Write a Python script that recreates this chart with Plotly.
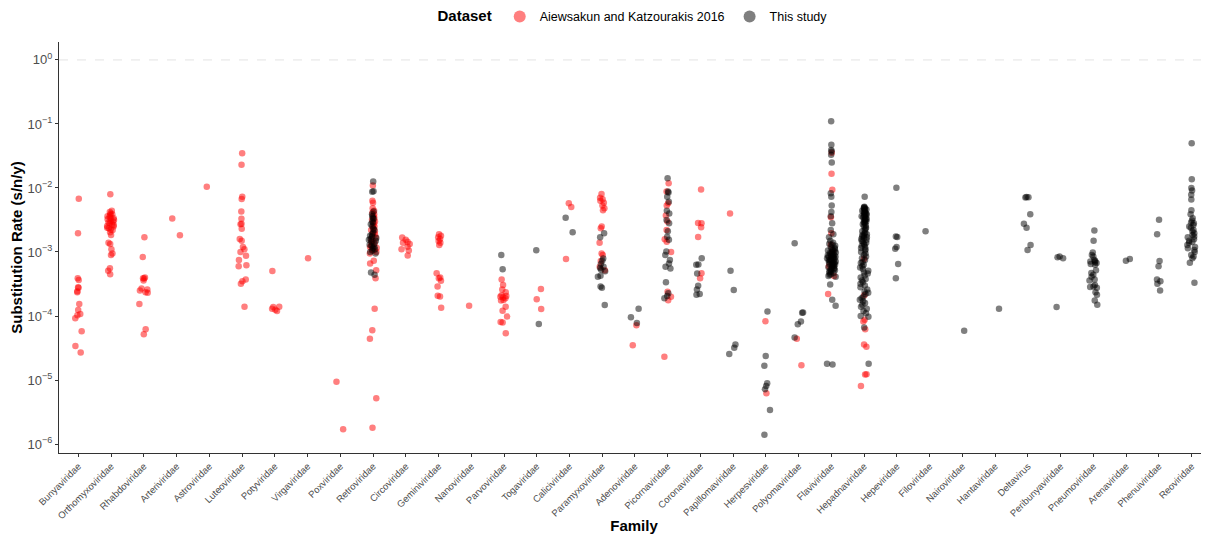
import plotly.graph_objects as go

families = ["Bunyaviridae", "Orthomyxoviridae", "Rhabdoviridae", "Arteriviridae", "Astroviridae",
            "Luteoviridae", "Potyviridae", "Virgaviridae", "Poxviridae", "Retroviridae",
            "Circoviridae", "Geminiviridae", "Nanoviridae", "Parvoviridae", "Togaviridae",
            "Caliciviridae", "Paramyxoviridae", "Adenoviridae", "Picornaviridae", "Coronaviridae",
            "Papillomaviridae", "Herpesviridae", "Polyomaviridae", "Flaviviridae", "Hepadnaviridae",
            "Hepeviridae", "Filoviridae", "Nairoviridae", "Hantaviridae", "Deltavirus",
            "Peribunyaviridae", "Pneumoviridae", "Arenaviridae", "Phenuiviridae", "Reoviridae"]

# ---- Aiewsakun and Katzourakis 2016 (red) ----
bunyaviridae_ak = [6.8e-3, 1.96e-3, 3.9e-4, 3.65e-4, 2.8e-4, 2.75e-4, 2.43e-4, 2.35e-4, 1.54e-4,
                   1.24e-4, 1.07e-4, 1.03e-4, 9.2e-5, 5.8e-5, 3.4e-5, 2.7e-5]
orthomyxoviridae_ak = [7.96e-3, 4.42e-3, 4.2e-3, 4.0e-3, 3.9e-3, 3.79e-3, 3.6e-3, 3.56e-3, 3.4e-3,
                       3.36e-3, 3.25e-3, 3.16e-3, 3.05e-3, 2.98e-3, 2.9e-3, 2.8e-3, 2.72e-3, 2.64e-3,
                       2.55e-3, 2.49e-3, 2.4e-3, 2.34e-3, 2.25e-3, 2.2e-3, 2.03e-3, 1.84e-3, 1.4e-3,
                       1.33e-3, 1.1e-3, 9.5e-4, 9.0e-4, 5.55e-4, 5.1e-4, 4.5e-4]
rhabdoviridae_ak = [1.7e-3, 8.35e-4, 4.0e-4, 3.9e-4, 3.85e-4, 3.6e-4, 2.7e-4, 2.6e-4, 2.5e-4,
                    2.35e-4, 2.3e-4, 1.54e-4, 6.2e-5, 5.2e-5]
arteriviridae_ak = [3.32e-3, 1.82e-3]
astroviridae_ak = [1.04e-2]
luteoviridae_ak = [3.5e-2, 2.3e-2, 7.3e-3, 6.7e-3, 4.3e-3, 3.3e-3, 2.75e-3, 2.7e-3, 2.3e-3, 1.6e-3,
                   1.5e-3, 1.2e-3, 1.1e-3, 1.0e-3, 8.7e-4, 7.5e-4, 6.2e-4, 6.0e-4, 3.7e-4, 3.5e-4,
                   3.2e-4, 1.4e-4]
potyviridae_ak = [5.05e-4, 1.4e-4, 1.38e-4, 1.3e-4, 1.25e-4, 1.2e-4]
virgaviridae_ak = [8.0e-4]
poxviridae_ak = [9.4e-6, 1.7e-6]
retroviridae_ak = [1.09e-2, 6.3e-3, 5.9e-3, 4.8e-3, 4.4e-3, 4.1e-3, 3.9e-3, 3.6e-3, 3.4e-3, 3.2e-3,
                   3.0e-3, 2.8e-3, 2.6e-3, 2.5e-3, 2.35e-3, 2.2e-3, 2.1e-3, 2.0e-3, 1.9e-3, 1.8e-3,
                   1.7e-3, 1.6e-3, 1.5e-3, 1.45e-3, 1.4e-3, 1.3e-3, 1.25e-3, 1.2e-3, 1.15e-3, 1.1e-3,
                   1.05e-3, 1.0e-3, 9.5e-4, 7.3e-4, 6.6e-4, 5.2e-4, 3.9e-4, 1.3e-4, 6.0e-5, 4.4e-5,
                   5.2e-6, 1.8e-6]
circoviridae_ak = [1.68e-3, 1.55e-3, 1.45e-3, 1.4e-3, 1.33e-3, 1.21e-3, 1.1e-3, 1.05e-3, 8.8e-4]
geminiviridae_ak = [1.9e-3, 1.8e-3, 1.7e-3, 1.6e-3, 1.48e-3, 1.4e-3, 1.29e-3, 4.65e-4, 4.0e-4,
                    3.9e-4, 3.56e-4, 2.9e-4, 2.08e-4, 2.02e-4, 1.35e-4]
nanoviridae_ak = [1.45e-4]
parvoviridae_ak = [3.7e-4, 3.05e-4, 2.6e-4, 2.34e-4, 2.1e-4, 2.05e-4, 2.0e-4, 1.95e-4, 1.89e-4,
                   1.78e-4, 1.74e-4, 1.4e-4, 1.21e-4, 9.8e-5, 8.05e-5, 7.9e-5, 5.4e-5]
togaviridae_ak = [2.64e-4, 1.82e-4, 1.29e-4]
caliciviridae_ak = [5.76e-3, 5.05e-3, 7.8e-4]
paramyxoviridae_ak = [8.05e-3, 7.06e-3, 6.65e-3, 6.3e-3, 5.9e-3, 5.3e-3, 4.8e-3, 4.5e-3, 2.49e-3,
                      2.34e-3, 1.4e-3, 9.5e-4, 9.0e-4, 7.2e-4, 5.9e-4, 5.2e-4]
adenoviridae_ak = [7.2e-5, 3.5e-5]
picornaviridae_ak = [1.18e-2, 8.8e-3, 5.76e-3, 5.3e-3, 3.7e-3, 2.98e-3, 2.2e-3, 1.58e-3, 1.45e-3,
                     1.0e-3, 2.4e-4, 2.0e-4, 1.76e-4, 2.3e-5]
coronaviridae_ak = [9.5e-3, 2.84e-3, 2.8e-3, 2.43e-3, 1.71e-3, 4.64e-4, 3.9e-4]
papillomaviridae_ak = [4.0e-3]
herpesviridae_ak = [8.3e-5, 6.2e-6]
polyomaviridae_ak = [4.4e-5, 1.7e-5]
flaviviridae_ak = [3.56e-2, 1.66e-2, 9.4e-3, 3.5e-3, 1.96e-3, 1.3e-3, 1.04e-3, 8.4e-4, 6.0e-4,
                   4.2e-4, 2.2e-4]
hepadnaviridae_ak = [7.8e-4, 2.1e-4, 8.7e-5, 8.2e-5, 6.2e-5, 3.6e-5, 3.3e-5, 1.23e-5, 1.22e-5, 8.1e-6]

# ---- This study (black) ----
retroviridae_ts = [1.26e-2, 8.9e-3, 8.7e-3, 4.3e-3, 3.9e-3, 3.6e-3, 3.4e-3, 3.3e-3, 3.0e-3, 2.9e-3,
                   2.7e-3, 2.5e-3, 2.3e-3, 2.2e-3, 2.0e-3, 1.9e-3, 1.8e-3, 1.75e-3, 1.65e-3, 1.6e-3,
                   1.55e-3, 1.5e-3, 1.45e-3, 1.35e-3, 1.3e-3, 1.25e-3, 1.2e-3, 1.15e-3, 1.1e-3,
                   1.05e-3, 1.0e-3, 9.5e-4, 4.8e-4, 4.4e-4]
parvoviridae_ts = [9.0e-4, 5.35e-4]
togaviridae_ts = [1.06e-3, 7.5e-5]
caliciviridae_ts = [3.44e-3, 2.03e-3]
paramyxoviridae_ts = [1.96e-3, 1.7e-3, 7.9e-4, 7.3e-4, 6.5e-4, 5.9e-4, 5.6e-4, 5.3e-4, 5.0e-4,
                      4.27e-4, 4.1e-4, 2.88e-4, 2.75e-4, 1.48e-4]
adenoviridae_ts = [1.3e-4, 9.6e-5, 7.8e-5]
picornaviridae_ts = [1.42e-2, 8.8e-3, 8.5e-3, 7.3e-3, 6.1e-3, 4.4e-3, 4.0e-3, 3.16e-3, 2.8e-3,
                     2.1e-3, 1.73e-3, 1.55e-3, 1.02e-3, 9.0e-4, 7.5e-4, 6.6e-4, 5.9e-4, 5.5e-4,
                     3.36e-4, 2.26e-4, 2.05e-4, 1.9e-4]
coronaviridae_ts = [8.0e-4, 6.4e-4, 6.3e-4, 4.6e-4, 2.98e-4, 2.6e-4, 2.2e-4, 2.15e-4]
papillomaviridae_ts = [5.1e-4, 2.55e-4, 3.6e-5, 3.2e-5, 2.56e-5]
herpesviridae_ts = [1.18e-4, 2.37e-5, 1.67e-5, 8.9e-6, 8.1e-6, 7.2e-6, 3.4e-6, 1.4e-6]
polyomaviridae_ts = [1.37e-3, 1.13e-4, 1.12e-4, 8.2e-5, 7.4e-5, 4.6e-5]
flaviviridae_ts = [0.11, 4.75e-2, 3.9e-2, 3.7e-2, 3.3e-2, 2.5e-2, 8.3e-3, 7.3e-3, 5.3e-3, 4.2e-3,
                   3.6e-3, 2.8e-3, 2.2e-3, 1.9e-3, 1.7e-3, 1.5e-3, 1.4e-3, 1.35e-3, 1.3e-3, 1.25e-3,
                   1.2e-3, 1.15e-3, 1.12e-3, 1.1e-3, 1.07e-3, 1.05e-3, 1.02e-3, 1.0e-3, 9.8e-4,
                   9.6e-4, 9.4e-4, 9.2e-4, 9.0e-4, 8.9e-4, 8.8e-4, 8.6e-4, 8.5e-4, 8.4e-4, 8.2e-4,
                   8.0e-4, 7.9e-4, 7.8e-4, 7.6e-4, 7.5e-4, 7.4e-4, 7.3e-4, 7.1e-4, 7.0e-4, 6.9e-4,
                   6.8e-4, 6.6e-4, 6.5e-4, 6.4e-4, 6.3e-4, 6.2e-4, 6.0e-4, 5.9e-4, 5.8e-4, 5.6e-4,
                   5.5e-4, 5.4e-4, 5.3e-4, 5.2e-4, 5.0e-4, 4.9e-4, 4.8e-4, 4.7e-4, 4.5e-4, 4.4e-4,
                   4.2e-4, 4.1e-4, 3.1e-4, 1.8e-4, 1.44e-4, 1.8e-5, 1.75e-5]
hepadnaviridae_ts = [7.3e-3, 5.1e-3, 5.0e-3, 4.9e-3, 4.8e-3, 4.7e-3, 4.6e-3, 4.5e-3, 4.4e-3, 4.3e-3,
                     4.2e-3, 4.1e-3, 4.0e-3, 3.95e-3, 3.9e-3, 3.8e-3, 3.7e-3, 3.6e-3, 3.55e-3, 3.5e-3,
                     3.4e-3, 3.3e-3, 3.25e-3, 3.2e-3, 3.1e-3, 3.0e-3, 2.95e-3, 2.9e-3, 2.8e-3, 2.7e-3,
                     2.6e-3, 2.5e-3, 2.4e-3, 2.3e-3, 2.2e-3, 2.1e-3, 2.0e-3, 1.95e-3, 1.9e-3, 1.85e-3,
                     1.8e-3, 1.75e-3, 1.7e-3, 1.65e-3, 1.6e-3, 1.55e-3, 1.5e-3, 1.45e-3, 1.4e-3,
                     1.35e-3, 1.3e-3, 1.25e-3, 1.2e-3, 1.15e-3, 1.1e-3, 1.05e-3, 1.0e-3, 9.5e-4,
                     9.0e-4, 8.5e-4, 8.0e-4, 7.5e-4, 7.0e-4, 6.7e-4, 6.3e-4, 6.0e-4, 5.7e-4, 5.4e-4,
                     5.1e-4, 4.8e-4, 4.6e-4, 4.3e-4, 4.0e-4, 3.8e-4, 3.6e-4, 3.4e-4, 3.2e-4, 3.0e-4,
                     2.8e-4, 2.6e-4, 2.4e-4, 2.3e-4, 2.2e-4, 2.0e-4, 1.9e-4, 1.8e-4, 1.7e-4, 1.6e-4,
                     1.5e-4, 1.4e-4, 1.3e-4, 1.2e-4, 1.1e-4, 1.0e-4, 9.7e-5, 6.6e-5, 1.8e-5]
hepeviridae_ts = [1.01e-2, 1.75e-3, 1.72e-3, 1.2e-3, 1.12e-3, 6.5e-4, 3.9e-4]
filoviridae_ts = [2.1e-3]
nairoviridae_ts = [5.9e-5]
hantaviridae_ts = [1.3e-4]
deltavirus_ts = [7.15e-3, 7.1e-3, 7.2e-3, 3.9e-3, 2.77e-3, 2.4e-3, 1.29e-3, 1.07e-3]
peribunyaviridae_ts = [8.5e-4, 8.3e-4, 8.0e-4, 1.38e-4]
pneumoviridae_ts = [2.16e-3, 1.5e-3, 9.8e-4, 9.0e-4, 8.5e-4, 7.5e-4, 7.3e-4, 7.1e-4, 7.0e-4, 6.7e-4,
                    6.5e-4, 6.3e-4, 5.2e-4, 4.7e-4, 4.4e-4, 4.1e-4, 3.7e-4, 3.6e-4, 3.05e-4, 2.9e-4,
                    2.85e-4, 2.75e-4, 2.34e-4, 2.15e-4, 1.74e-4, 1.5e-4]
arenaviridae_ts = [7.8e-4, 7.3e-4]
phenuiviridae_ts = [3.2e-3, 1.9e-3, 7.2e-4, 6.0e-4, 3.7e-4, 3.5e-4, 3.2e-4, 2.5e-4]
reoviridae_ts = [4.99e-2, 1.37e-2, 1.0e-2, 9.1e-3, 7.8e-3, 6.6e-3, 4.5e-3, 3.9e-3, 3.36e-3, 3.1e-3,
                 2.9e-3, 2.8e-3, 2.64e-3, 2.5e-3, 2.4e-3, 2.2e-3, 2.1e-3, 1.96e-3, 1.85e-3, 1.75e-3,
                 1.7e-3, 1.58e-3, 1.5e-3, 1.45e-3, 1.4e-3, 1.29e-3, 1.2e-3, 1.14e-3, 1.07e-3, 1.0e-3,
                 9.0e-4, 8.5e-4, 8.0e-4, 6.8e-4, 3.3e-4]

ytick_vals = [1e-6, 1e-5, 1e-4, 1e-3, 1e-2, 1e-1, 1]
ytick_text = ["10<sup>−6</sup>", "10<sup>−5</sup>", "10<sup>−4</sup>", "10<sup>−3</sup>",
              "10<sup>−2</sup>", "10<sup>−1</sup>", "10<sup>0</sup>"]

ak_sets = [("Bunyaviridae", bunyaviridae_ak), ("Orthomyxoviridae", orthomyxoviridae_ak),
           ("Rhabdoviridae", rhabdoviridae_ak), ("Arteriviridae", arteriviridae_ak),
           ("Astroviridae", astroviridae_ak), ("Luteoviridae", luteoviridae_ak),
           ("Potyviridae", potyviridae_ak), ("Virgaviridae", virgaviridae_ak),
           ("Poxviridae", poxviridae_ak), ("Retroviridae", retroviridae_ak),
           ("Circoviridae", circoviridae_ak), ("Geminiviridae", geminiviridae_ak),
           ("Nanoviridae", nanoviridae_ak), ("Parvoviridae", parvoviridae_ak),
           ("Togaviridae", togaviridae_ak), ("Caliciviridae", caliciviridae_ak),
           ("Paramyxoviridae", paramyxoviridae_ak), ("Adenoviridae", adenoviridae_ak),
           ("Picornaviridae", picornaviridae_ak), ("Coronaviridae", coronaviridae_ak),
           ("Papillomaviridae", papillomaviridae_ak), ("Herpesviridae", herpesviridae_ak),
           ("Polyomaviridae", polyomaviridae_ak), ("Flaviviridae", flaviviridae_ak),
           ("Hepadnaviridae", hepadnaviridae_ak)]
ts_sets = [("Retroviridae", retroviridae_ts), ("Parvoviridae", parvoviridae_ts),
           ("Togaviridae", togaviridae_ts), ("Caliciviridae", caliciviridae_ts),
           ("Paramyxoviridae", paramyxoviridae_ts), ("Adenoviridae", adenoviridae_ts),
           ("Picornaviridae", picornaviridae_ts), ("Coronaviridae", coronaviridae_ts),
           ("Papillomaviridae", papillomaviridae_ts), ("Herpesviridae", herpesviridae_ts),
           ("Polyomaviridae", polyomaviridae_ts), ("Flaviviridae", flaviviridae_ts),
           ("Hepadnaviridae", hepadnaviridae_ts), ("Hepeviridae", hepeviridae_ts),
           ("Filoviridae", filoviridae_ts), ("Nairoviridae", nairoviridae_ts),
           ("Hantaviridae", hantaviridae_ts), ("Deltavirus", deltavirus_ts),
           ("Peribunyaviridae", peribunyaviridae_ts), ("Pneumoviridae", pneumoviridae_ts),
           ("Arenaviridae", arenaviridae_ts), ("Phenuiviridae", phenuiviridae_ts),
           ("Reoviridae", reoviridae_ts)]


def flatten(sets):
    xs, ys = [], []
    for fam, vals in sets:
        xs += [fam] * len(vals)
        ys += list(vals)
    return xs, ys


FONT = "Liberation Sans, Arial, Helvetica, sans-serif"
RED = "rgba(255,0,0,0.5)"
BLACK = "rgba(0,0,0,0.5)"

fig = go.Figure()
for name, sets, col in [("Aiewsakun and Katzourakis 2016", ak_sets, RED),
                        ("This study", ts_sets, BLACK)]:
    xs, ys = flatten(sets)
    fig.add_trace(go.Box(
        x=xs, y=ys, name=name, showlegend=False,
        boxpoints="all", jitter=1.0, pointpos=0, width=0.28,
        fillcolor="rgba(0,0,0,0)", line=dict(color="rgba(0,0,0,0)", width=0),
        whiskerwidth=0, hoveron="points",
        marker=dict(color=col, size=6.5, line=dict(width=0)),
    ))
    fig.add_trace(go.Scatter(
        x=[None], y=[None], mode="markers", name=name, showlegend=True,
        marker=dict(color=col, size=7),
    ))

fig.add_hline(y=1, line=dict(color="#e3e3e3", width=1, dash="dash"), layer="below")

# The page body adds an 8px offset; the figure is sized so the plot lands at the reference spot.
fig.update_layout(
    width=1201, height=528,
    margin=dict(l=51, r=0, t=34, b=83, autoexpand=False),
    paper_bgcolor="white", plot_bgcolor="white",
    boxmode="overlay",
    font=dict(family=FONT, color="#000000"),
    legend=dict(
        orientation="h", x=0.5, xanchor="center", y=1.061, yanchor="middle",
        title=dict(text="<b>Dataset</b>", font=dict(size=15, color="#000000"), side="left"),
        font=dict(size=12.5, color="#000000"), itemsizing="constant",
        tracegroupgap=0, itemwidth=30, valign="middle",
    ),
    xaxis=dict(
        type="category", categoryorder="array", categoryarray=families,
        range=[-0.59, 34.53], showgrid=False, zeroline=False,
        showline=True, linecolor="#333333", linewidth=1.2,
        ticks="outside", ticklen=3, tickcolor="#333333", tickwidth=1,
        tickangle=-45, tickfont=dict(size=9.5, color="#4d4d4d"),
        title=dict(text="<b>Family</b>", font=dict(size=15, color="#000000"), standoff=0),
        automargin=False,
    ),
    yaxis=dict(
        type="log", range=[-6.14, 0.28], showgrid=False, zeroline=False,
        showline=True, linecolor="#333333", linewidth=1.2,
        ticks="outside", ticklen=3, tickcolor="#333333", tickwidth=1,
        tickvals=ytick_vals, ticktext=ytick_text,
        tickfont=dict(size=13, color="#4d4d4d"),
        title=dict(text="<b>Substitution Rate (s/n/y)</b>", font=dict(size=15, color="#000000"),
                   standoff=8),
        automargin=False,
    ),
)

fig.write_html("out.html")
